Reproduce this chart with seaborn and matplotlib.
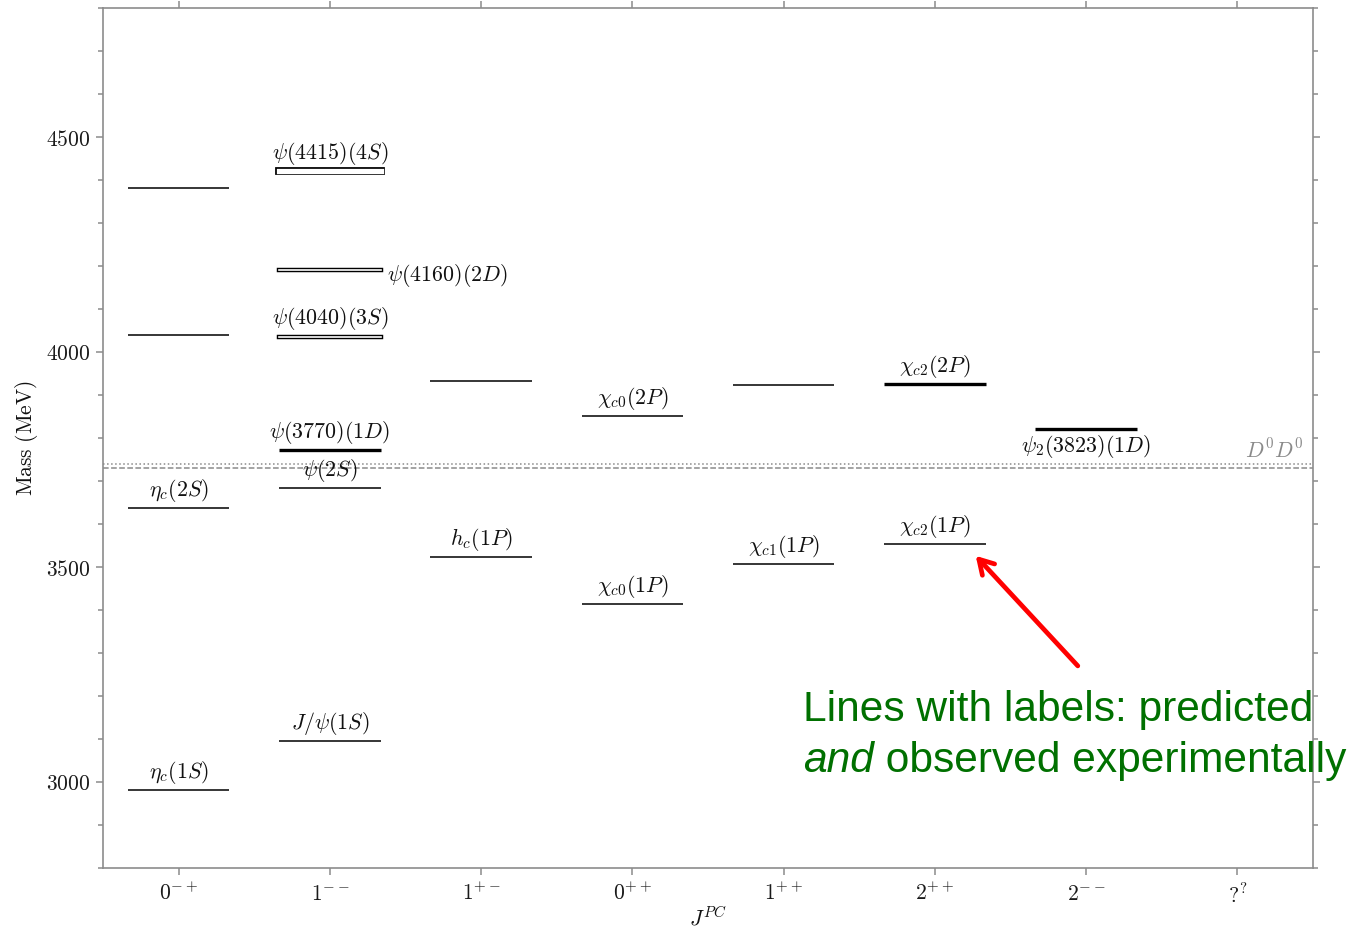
import numpy as np
import pandas as pd
import matplotlib
matplotlib.use("Agg")
import matplotlib.pyplot as plt
from matplotlib.ticker import MultipleLocator, FixedLocator
import seaborn as sns

# J^PC columns
jpc_ticks = [r"$0^{-+}$", r"$1^{--}$", r"$1^{+-}$", r"$0^{++}$",
             r"$1^{++}$", r"$2^{++}$", r"$2^{--}$", r"$?^{?}$"]

# charmonium levels: column index, mass (MeV), label, line kind, label side
state_col = [0, 0, 0, 0, 1, 1, 1, 1, 1, 1, 2, 2, 3, 3, 4, 4, 5, 5, 6]
state_mass = [4381, 4040, 3637, 2981,
              4421, 4191, 4036, 3772, 3684, 3095,
              3933, 3523,
              3851, 3414,
              3923, 3507,
              3926, 3553,
              3821]
state_label = ["", "", r"$\eta_c(2S)$", r"$\eta_c(1S)$",
               r"$\psi(4415)(4S)$", r"$\psi(4160)(2D)$", r"$\psi(4040)(3S)$",
               r"$\psi(3770)(1D)$", r"$\psi(2S)$", r"$J/\psi(1S)$",
               "", r"$h_c(1P)$",
               r"$\chi_{c0}(2P)$", r"$\chi_{c0}(1P)$",
               "", r"$\chi_{c1}(1P)$",
               r"$\chi_{c2}(2P)$", r"$\chi_{c2}(1P)$",
               r"$\psi_2(3823)(1D)$"]
state_kind = ["thin", "thin", "thin", "thin",
              "wide", "open", "open", "thick", "thin", "thin",
              "thin", "thin",
              "thin", "thin",
              "thin", "thin",
              "thick", "thin",
              "thick"]
label_side = ["above"] * 19
label_side[5] = "right"
label_side[18] = "below"

# open-charm thresholds (MeV)
threshold_mass = [3739, 3730]
threshold_style = [":", "--"]
threshold_label = r"$D^0D^0$"

half_width = 0.335

sns.set_theme(style="ticks")
plt.rcParams.update({
    "mathtext.fontset": "cm",
    "font.family": ["DejaVu Serif"],
    "axes.edgecolor": "#8c8c8c",
    "axes.linewidth": 1.2,
    "xtick.color": "#8c8c8c",
    "ytick.color": "#8c8c8c",
    "xtick.labelcolor": "#1a1a1a",
    "ytick.labelcolor": "#1a1a1a",
})

fig = plt.figure(figsize=(13.5, 9.31), dpi=100)
ax = fig.add_axes([103 / 1350, 1 - 868 / 931, 1210 / 1350, 860 / 931])

rows = []
for i, (c, m, k) in enumerate(zip(state_col, state_mass, state_kind)):
    rows.append({"state": i, "x": c - half_width, "y": m, "kind": k})
    rows.append({"state": i, "x": c + half_width, "y": m, "kind": k})
seg = pd.DataFrame(rows)

kind_style = {
    "thin": ("#2e2e2e", 1.35, None),
    "thick": ("black", 2.4, None),
    "open": ("black", 3.2, 1.2),
    "wide": ("black", 5.6, 3.8),
}
for kind, (col, lw, inner) in kind_style.items():
    sub = seg[seg["kind"] == kind]
    if sub.empty:
        continue
    cap = "projecting" if inner is not None else "butt"
    sns.lineplot(data=sub, x="x", y="y", units="state", estimator=None,
                 color=col, linewidth=lw, sort=False, legend=False, ax=ax,
                 solid_capstyle=cap)
    if inner is not None:
        # white core leaves a thin outline around the level
        sns.lineplot(data=sub, x="x", y="y", units="state", estimator=None,
                     color="white", linewidth=inner, sort=False, legend=False,
                     ax=ax, solid_capstyle="projecting")

# threshold lines
for m, ls in zip(threshold_mass, threshold_style):
    ax.axhline(m, color="#8a8a8a", lw=1.1, ls=ls, zorder=1)
ax.annotate(threshold_label, xy=(0.992, threshold_mass[0]),
            xycoords=("axes fraction", "data"), xytext=(0, 1),
            textcoords="offset points", ha="right", va="bottom",
            fontsize=15.5, color="#8a8a8a")

# state labels
lab_fs = 15.8
for c, m, lab, side in zip(state_col, state_mass, state_label, label_side):
    if not lab:
        continue
    if side == "above":
        ax.annotate(lab, xy=(c, m), xytext=(0, 3), textcoords="offset points",
                    ha="center", va="bottom", fontsize=lab_fs, color="#111111")
    elif side == "below":
        ax.annotate(lab, xy=(c, m), xytext=(0, -3), textcoords="offset points",
                    ha="center", va="top", fontsize=lab_fs, color="#111111")
    else:
        ax.annotate(lab, xy=(c + half_width, m), xytext=(5, -4),
                    textcoords="offset points", ha="left", va="center",
                    fontsize=lab_fs, color="#111111")

ax.set_xlim(-0.5, len(jpc_ticks) - 0.5)
ax.set_ylim(2800, 4800)
ax.xaxis.set_major_locator(FixedLocator(range(len(jpc_ticks))))
ax.set_xticklabels(jpc_ticks, fontsize=15.5)
ax.yaxis.set_major_locator(FixedLocator([3000, 3500, 4000, 4500]))
ax.set_yticklabels([r"$3000$", r"$3500$", r"$4000$", r"$4500$"], fontsize=15.5)
ax.yaxis.set_minor_locator(MultipleLocator(100))
ax.tick_params(axis="both", which="both", direction="out",
               top=True, right=True, labeltop=False, labelright=False)
ax.tick_params(axis="both", which="major", length=5, width=1.1)
ax.tick_params(axis="y", which="minor", length=3.5, width=1.1)
ax.tick_params(axis="x", which="major", pad=6)
ax.tick_params(axis="y", which="major", pad=4)

ax.set_xlabel(r"$J^{PC}$", fontsize=15.5, color="#111111")
ax.set_ylabel(r"$\mathrm{Mass\ (MeV)}$", fontsize=15.5, color="#111111")
ax.xaxis.set_label_coords(0.5, -0.045)
ax.yaxis.set_label_coords(-0.052, 0.5)

# note on labelled lines
i_ref = state_label.index(r"$\chi_{c2}(1P)$")
tip = (state_col[i_ref] + 0.27, state_mass[i_ref] - 27)
ax.annotate("", xy=tip, xytext=(tip[0] + 0.675, tip[1] - 256),
            arrowprops=dict(arrowstyle="->,head_length=0.85,head_width=0.5",
                            color="#ff0000", lw=3.4, shrinkA=0, shrinkB=0))

green = "#007000"
green_fs = 30.6
fig.text(803 / 1350, 1 - 721 / 931, "Lines with labels: predicted",
         fontsize=green_fs, color=green, family="Liberation Sans",
         ha="left", va="baseline")
t_and = fig.text(803 / 1350, 1 - 772 / 931, "and", fontsize=green_fs,
                 color=green, family="Liberation Sans", style="italic",
                 ha="left", va="baseline")
ax.annotate(" observed experimentally", xy=(1, 0), xycoords=t_and,
            ha="left", va="bottom", fontsize=green_fs, color=green,
            family="Liberation Sans", annotation_clip=False)

fig.savefig("out.png", dpi=100, facecolor="white")
